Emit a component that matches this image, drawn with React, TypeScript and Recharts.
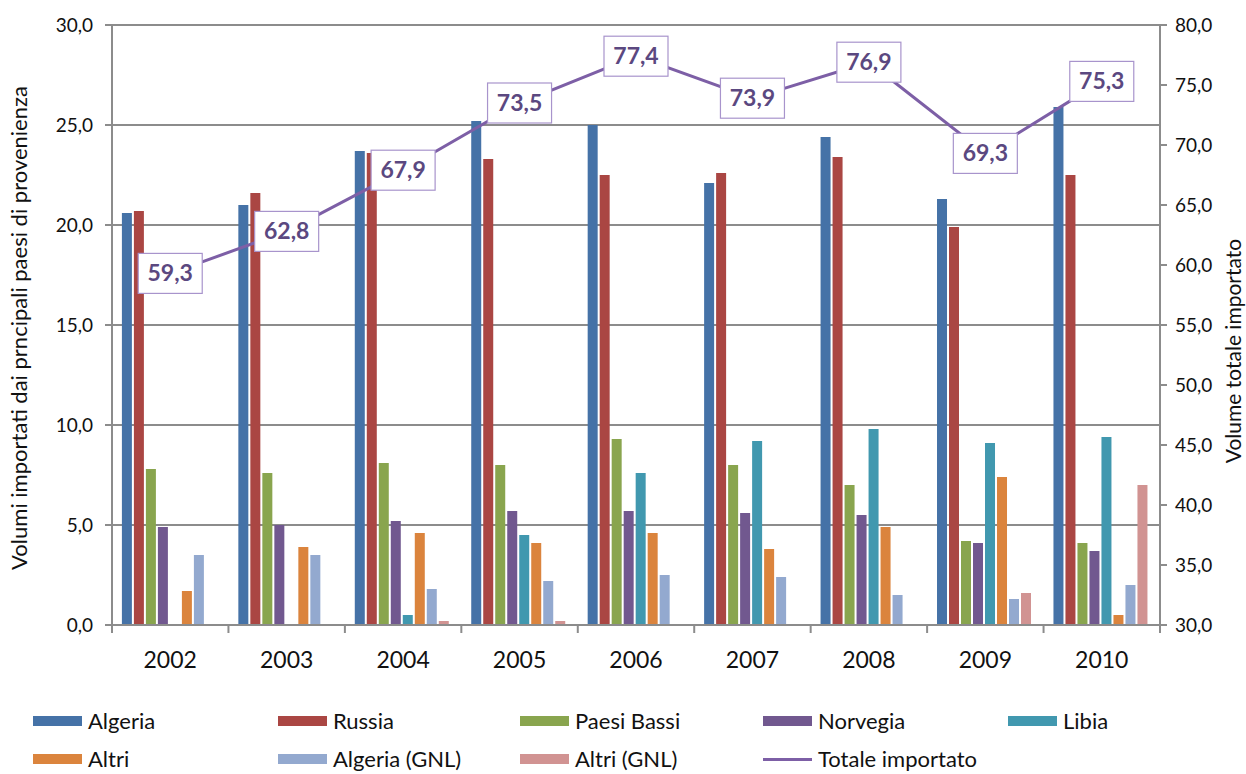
import {
  ComposedChart,
  Bar,
  Line,
  XAxis,
  YAxis,
  CartesianGrid,
  LabelList,
} from 'recharts'

const YEARS = ['2002', '2003', '2004', '2005', '2006', '2007', '2008', '2009', '2010']

const ALGERIA = [20.6, 21.0, 23.7, 25.2, 25.0, 22.1, 24.4, 21.3, 25.9]
const RUSSIA = [20.7, 21.6, 23.6, 23.3, 22.5, 22.6, 23.4, 19.9, 22.5]
const PAESI_BASSI = [7.8, 7.6, 8.1, 8.0, 9.3, 8.0, 7.0, 4.2, 4.1]
const NORVEGIA = [4.9, 5.0, 5.2, 5.7, 5.7, 5.6, 5.5, 4.1, 3.7]
const LIBIA = [0, 0, 0.5, 4.5, 7.6, 9.2, 9.8, 9.1, 9.4]
const ALTRI = [1.7, 3.9, 4.6, 4.1, 4.6, 3.8, 4.9, 7.4, 0.5]
const ALGERIA_GNL = [3.5, 3.5, 1.8, 2.2, 2.5, 2.4, 1.5, 1.3, 2.0]
const ALTRI_GNL = [0, 0, 0.2, 0.2, 0, 0, 0, 1.6, 7.0]
const TOTALE = [59.3, 62.8, 67.9, 73.5, 77.4, 73.9, 76.9, 69.3, 75.3]

const LEFT_TICKS = [0, 5, 10, 15, 20, 25, 30]
const RIGHT_TICKS = [30, 35, 40, 45, 50, 55, 60, 65, 70, 75, 80]

const SERIES = [
  { key: 'algeria', name: 'Algeria', color: '#4572a7' },
  { key: 'russia', name: 'Russia', color: '#aa4643' },
  { key: 'paesiBassi', name: 'Paesi Bassi', color: '#89a54e' },
  { key: 'norvegia', name: 'Norvegia', color: '#71588f' },
  { key: 'libia', name: 'Libia', color: '#4198af' },
  { key: 'altri', name: 'Altri', color: '#db843d' },
  { key: 'algeriaGnl', name: 'Algeria (GNL)', color: '#93a9cf' },
  { key: 'altriGnl', name: 'Altri (GNL)', color: '#d19392' },
]

const LINE_COLOR = '#7d5fa6'
const GRID_COLOR = '#8c8c8c'

const data = YEARS.map((year, i) => ({
  year,
  algeria: ALGERIA[i],
  russia: RUSSIA[i],
  paesiBassi: PAESI_BASSI[i],
  norvegia: NORVEGIA[i],
  libia: LIBIA[i],
  altri: ALTRI[i],
  algeriaGnl: ALGERIA_GNL[i],
  altriGnl: ALTRI_GNL[i],
  totale: TOTALE[i],
}))

// plot box (svg coords == page coords, the wrapper sits at 0,0)
const PLOT_LEFT = 112
const PLOT_RIGHT = 1160
const PLOT_TOP = 25
const PLOT_BOTTOM = 625
const BAND = (PLOT_RIGHT - PLOT_LEFT) / YEARS.length

const fmt = (v: number) => v.toFixed(1).replace('.', ',')

function YearTick(props: any) {
  const { x, payload, index } = props
  const left = x - BAND / 2
  const right = x + BAND / 2
  return (
    <g>
      <line x1={left} x2={left} y1={PLOT_BOTTOM} y2={PLOT_BOTTOM + 8} stroke={GRID_COLOR} strokeWidth={2} />
      {index === YEARS.length - 1 && (
        <line x1={right} x2={right} y1={PLOT_BOTTOM} y2={PLOT_BOTTOM + 8} stroke={GRID_COLOR} strokeWidth={2} />
      )}
      <text x={x} y={PLOT_BOTTOM + 43} textAnchor="middle" fontSize={23} fill="#111">
        {payload.value}
      </text>
    </g>
  )
}

function TotalLabel(props: any) {
  const { x, y, value } = props
  const w = 64
  const h = 40
  return (
    <g>
      <rect x={x - w / 2} y={y - h / 2} width={w} height={h} fill="#fff" stroke="#a894cc" strokeWidth={1.2} />
      <text x={x} y={y + 8} textAnchor="middle" fontSize={23} fontWeight={700} fill="#5b4880">
        {fmt(value)}
      </text>
    </g>
  )
}

const LEGEND_COLS = [33, 278, 520, 763, 1008]
const LEGEND_ROWS = [721, 759]

function ChartLegend() {
  const items = [
    ...SERIES.map((s) => ({ name: s.name, color: s.color, line: false })),
    { name: 'Totale importato', color: LINE_COLOR, line: true },
  ]
  return (
    <div style={{ position: 'absolute', left: 0, top: 0, width: 1246, height: 774, pointerEvents: 'none' }}>
      {items.map((it, i) => {
        const left = LEGEND_COLS[i % 5]
        const top = LEGEND_ROWS[Math.floor(i / 5)]
        return (
          <div key={it.name} style={{ position: 'absolute', left, top: top - 14, height: 28, display: 'flex', alignItems: 'center', whiteSpace: 'nowrap' }}>
            <span
              style={{
                display: 'inline-block',
                width: 49,
                height: it.line ? 3 : 10,
                backgroundColor: it.color,
                marginRight: 6,
              }}
            />
            <span style={{ fontSize: 22, lineHeight: '28px', color: '#111' }}>{it.name}</span>
          </div>
        )
      })}
    </div>
  )
}

export default function App() {
  return (
    <div style={{ position: 'absolute', left: 0, top: 0, width: 1246, height: 774, overflow: 'hidden', fontFamily: 'Lato, sans-serif', background: '#fff' }}>
      <ComposedChart
        width={1246}
        height={700}
        data={data}
        margin={{ top: PLOT_TOP, right: 0, bottom: 15, left: 0 }}
        barCategoryGap="8.5%"
        barGap={2}
      >
        <CartesianGrid yAxisId="left" vertical={false} stroke={GRID_COLOR} strokeWidth={2} />
        <XAxis
          dataKey="year"
          height={60}
          tickLine={false}
          axisLine={{ stroke: GRID_COLOR, strokeWidth: 2 }}
          tick={<YearTick />}
          interval={0}
        />
        <YAxis
          yAxisId="left"
          width={PLOT_LEFT}
          domain={[0, 30]}
          ticks={LEFT_TICKS}
          tickFormatter={fmt}
          tickSize={7}
          tickMargin={12}
          tickLine={{ stroke: GRID_COLOR, strokeWidth: 2 }}
          axisLine={{ stroke: GRID_COLOR, strokeWidth: 2 }}
          tick={{ fill: '#111', fontSize: 19 }}
          label={{
            content: (p: any) => {
              const vb = p.viewBox
              const cx = 18
              const cy = vb.y + vb.height / 2 + 3
              return (
                <text x={cx} y={cy} transform={`rotate(-90 ${cx} ${cy})`} textAnchor="middle" dominantBaseline="central" fontSize={22} fill="#111">
                  Volumi importati dai prncipali paesi di provenienza
                </text>
              )
            },
          }}
        />
        <YAxis
          yAxisId="right"
          orientation="right"
          width={1246 - PLOT_RIGHT}
          domain={[30, 80]}
          ticks={RIGHT_TICKS}
          tickFormatter={fmt}
          tickSize={7}
          tickMargin={8}
          tickLine={{ stroke: GRID_COLOR, strokeWidth: 2 }}
          axisLine={{ stroke: GRID_COLOR, strokeWidth: 2 }}
          tick={{ fill: '#111', fontSize: 19 }}
          label={{
            content: () => {
              const cx = 1232
              const cy = 351
              return (
                <text x={cx} y={cy} transform={`rotate(-90 ${cx} ${cy})`} textAnchor="middle" dominantBaseline="central" fontSize={21} fill="#111">
                  Volume totale importato
                </text>
              )
            },
          }}
        />
        {SERIES.map((s) => (
          <Bar key={s.key} yAxisId="left" dataKey={s.key} name={s.name} fill={s.color} isAnimationActive={false} />
        ))}
        <Line
          yAxisId="right"
          dataKey="totale"
          name="Totale importato"
          stroke={LINE_COLOR}
          strokeWidth={3}
          dot={false}
          activeDot={false}
          isAnimationActive={false}
        >
          <LabelList dataKey="totale" content={<TotalLabel />} />
        </Line>
      </ComposedChart>
      <ChartLegend />
    </div>
  )
}
